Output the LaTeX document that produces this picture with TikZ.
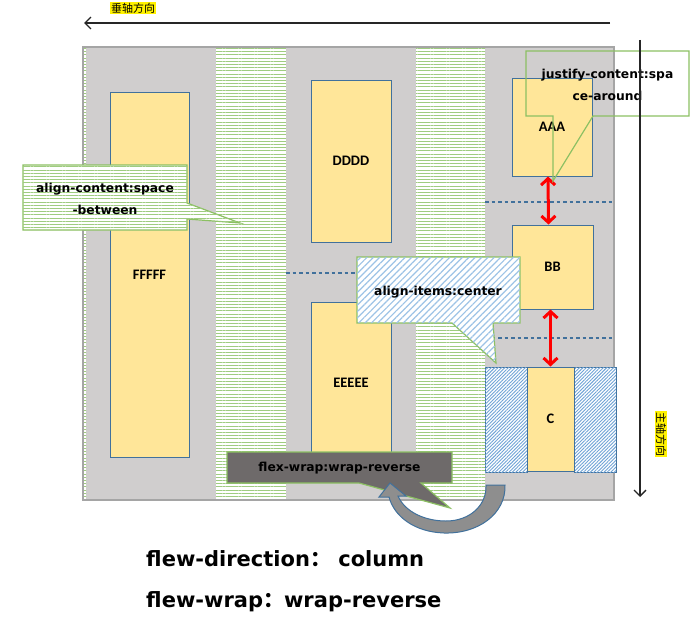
\documentclass[tikz,border=0pt]{standalone}
\usepackage{fontspec}
\setmainfont{DejaVu Sans}
\newfontfamily\cjk{Noto Sans CJK SC}
\newfontfamily\boxfont{Carlito}
\usetikzlibrary{arrows.meta,patterns.meta}
\definecolor{bggray}{HTML}{D0CECE}
\definecolor{bdgray}{HTML}{A5A5A5}
\definecolor{yfill}{HTML}{FFE699}
\definecolor{bluebd}{HTML}{41719C}
\definecolor{stripegreen}{HTML}{9FCC80}
\definecolor{calloutgreen}{HTML}{8CC063}
\definecolor{hatchblue}{HTML}{9DC3E6}
\definecolor{hatchdark}{HTML}{6FA3D6}
\definecolor{darkcallout}{HTML}{6E6A6A}
\definecolor{arrowgray}{HTML}{8E8E8E}
\definecolor{axisblack}{HTML}{262626}
\tikzset{
  stripecol/.style={fill=white, postaction={pattern={Lines[angle=0,distance=3.2pt,line width=0.9pt]}, pattern color=stripegreen}},
  dotline/.style={bluebd, line width=2.5pt, dash pattern=on 3.5pt off 3pt},
  ybox/.style={draw=bluebd, fill=yfill, line width=1pt, inner sep=0pt, text=black, font=\boxfont\bfseries\fontsize{14.5}{14.5}\selectfont},
  hatchbox/.style={draw=bluebd, line width=1pt, fill=white, postaction={pattern={Lines[angle=45,distance=2.4pt,line width=0.9pt]}, pattern color=hatchdark}},
  redarr/.style={red, line width=3pt, {Straight Barb[length=6.5pt,width=14pt]}-{Straight Barb[length=6.5pt,width=14pt]}},
  axisarr/.style={axisblack, line width=1.3pt, -{Straight Barb[length=6pt,width=12pt]}},
  cjklabel/.style={fill=yellow, inner sep=0.6pt, text=black, font=\cjk\fontsize{11}{11}\selectfont},
  calloutgreenstripe/.style={draw=calloutgreen, line width=1.2pt, fill=white, postaction={pattern={Lines[angle=0,distance=3.2pt,line width=0.9pt]}, pattern color=stripegreen}},
  calloutbluestripe/.style={draw=calloutgreen, line width=1.2pt, fill=white, postaction={pattern={Lines[angle=45,distance=4.5pt,line width=1.2pt]}, pattern color=hatchblue}},
  calloutline/.style={draw=calloutgreen, line width=1.2pt},
  calloutdark/.style={draw=calloutgreen, line width=1.2pt, fill=darkcallout},
  callouttext/.style={align=center, inner sep=0pt, text=black, font=\bfseries\fontsize{12.3}{21.5}\selectfont},
  uarrow/.style={fill=arrowgray, draw=bluebd, line width=1pt},
  bigtext/.style={anchor=west, inner sep=0pt, text=black, font=\bfseries\fontsize{21}{21}\selectfont}
}
\begin{document}
\begin{tikzpicture}[x=1pt,y=-1pt]
\useasboundingbox (0,0) rectangle (692,618);
% container
\fill[bggray] (83,47) rectangle (614,500);
\path[stripecol] (83,47) rectangle (86,500);
\path[stripecol] (216,47) rectangle (286,500);
\path[stripecol] (416,47) rectangle (485,500);
\draw[bdgray, line width=1.2pt] (83,47) rectangle (614,500);
% dotted separators
\coordinate (d1a) at (286,273); \coordinate (d1b) at (360,273);
\coordinate (d2a) at (485,202); \coordinate (d2b) at (614,202);
\coordinate (d3a) at (485,338); \coordinate (d3b) at (614,338);
\draw[dotline] (d1a) -- (d1b);
\draw[dotline] (d2a) -- (d2b);
\draw[dotline] (d3a) -- (d3b);
% items
\node[ybox, minimum width=79pt, minimum height=365pt] (F) at (149.5,274.5) {FFFFF};
\node[ybox, minimum width=80pt, minimum height=162pt] (D) at (351,161) {DDDD};
\node[ybox, minimum width=80pt, minimum height=162pt] (E) at (351,383) {EEEEE};
\node[ybox, minimum width=80pt, minimum height=98pt] (A) at (552,127) {AAA};
\node[ybox, minimum width=81pt, minimum height=84pt] (B) at (552.5,267) {BB};
\node[hatchbox, minimum width=42pt, minimum height=105pt] (CL) at (506,419.5) {};
\node[hatchbox, minimum width=42pt, minimum height=105pt] (CR) at (595,419.5) {};
\node[ybox, minimum width=47pt, minimum height=104pt] (C) at (550.5,419) {C};
% red spacing arrows
\draw[redarr] ([xshift=-4pt]A.south) -- ([xshift=-4pt]B.north);
\draw[redarr] ([xshift=-2pt]B.south) -- (C.north);
% callouts
\path[calloutgreenstripe] (23,165) -- (187,165) -- (187,203) -- (240,223) -- (187,219) -- (187,230) -- (23,230) -- cycle;
\node[callouttext] (t1) at (105,199) {align-content:space\\-between};
\path[calloutbluestripe] (357,257) -- (520,257) -- (520,323) -- (493,323) -- (496,363) -- (452,323) -- (357,323) -- cycle;
\node[callouttext] (t3) at (438,292) {align-items:center};
\path[calloutdark] (227,452) -- (452,452) -- (452,483) -- (421,483) -- (450,508) -- (359,483) -- (227,483) -- cycle;
\node[callouttext] (t4) at (339.5,468) {flex-wrap:wrap-reverse};
\path[calloutline] (526,51) -- (689,51) -- (689,116) -- (593,116) -- (553,181) -- (553,116) -- (526,116) -- cycle;
\node[callouttext, font=\bfseries\fontsize{12.3}{22}\selectfont] (t2) at (607.5,85) {justify-content:spa\\ce-around};
% axes
\coordinate (h0) at (610,23); \coordinate (h1) at (84,23);
\draw[axisarr] (h0) -- (h1);
\coordinate (v0) at (640,40); \coordinate (v1) at (640,497);
\draw[axisarr] (v0) -- (v1);
\node[cjklabel] (vlab) at (133,8) {垂轴方向};
\node[cjklabel, rotate=-90] (mlab) at (661,434) {主轴方向};
% U-turn arrow
\path[uarrow] (505,485) .. controls (506,514) and (478,534) .. (444,533)
  .. controls (414,532) and (394,516) .. (389,497) -- (379,497) -- (390,483) -- (406,496) -- (398,496)
  .. controls (405,512) and (425,521) .. (446,521) .. controls (470,521) and (487,505) .. (486,485) -- cycle;
% bottom text
\node[bigtext] (b1) at (146,559) {flew-direction{\cjk\bfseries ：} column};
\node[bigtext] (b2) at (146,602) {flew-wrap{\cjk\bfseries ：}wrap-reverse};
\end{tikzpicture}
\end{document}
